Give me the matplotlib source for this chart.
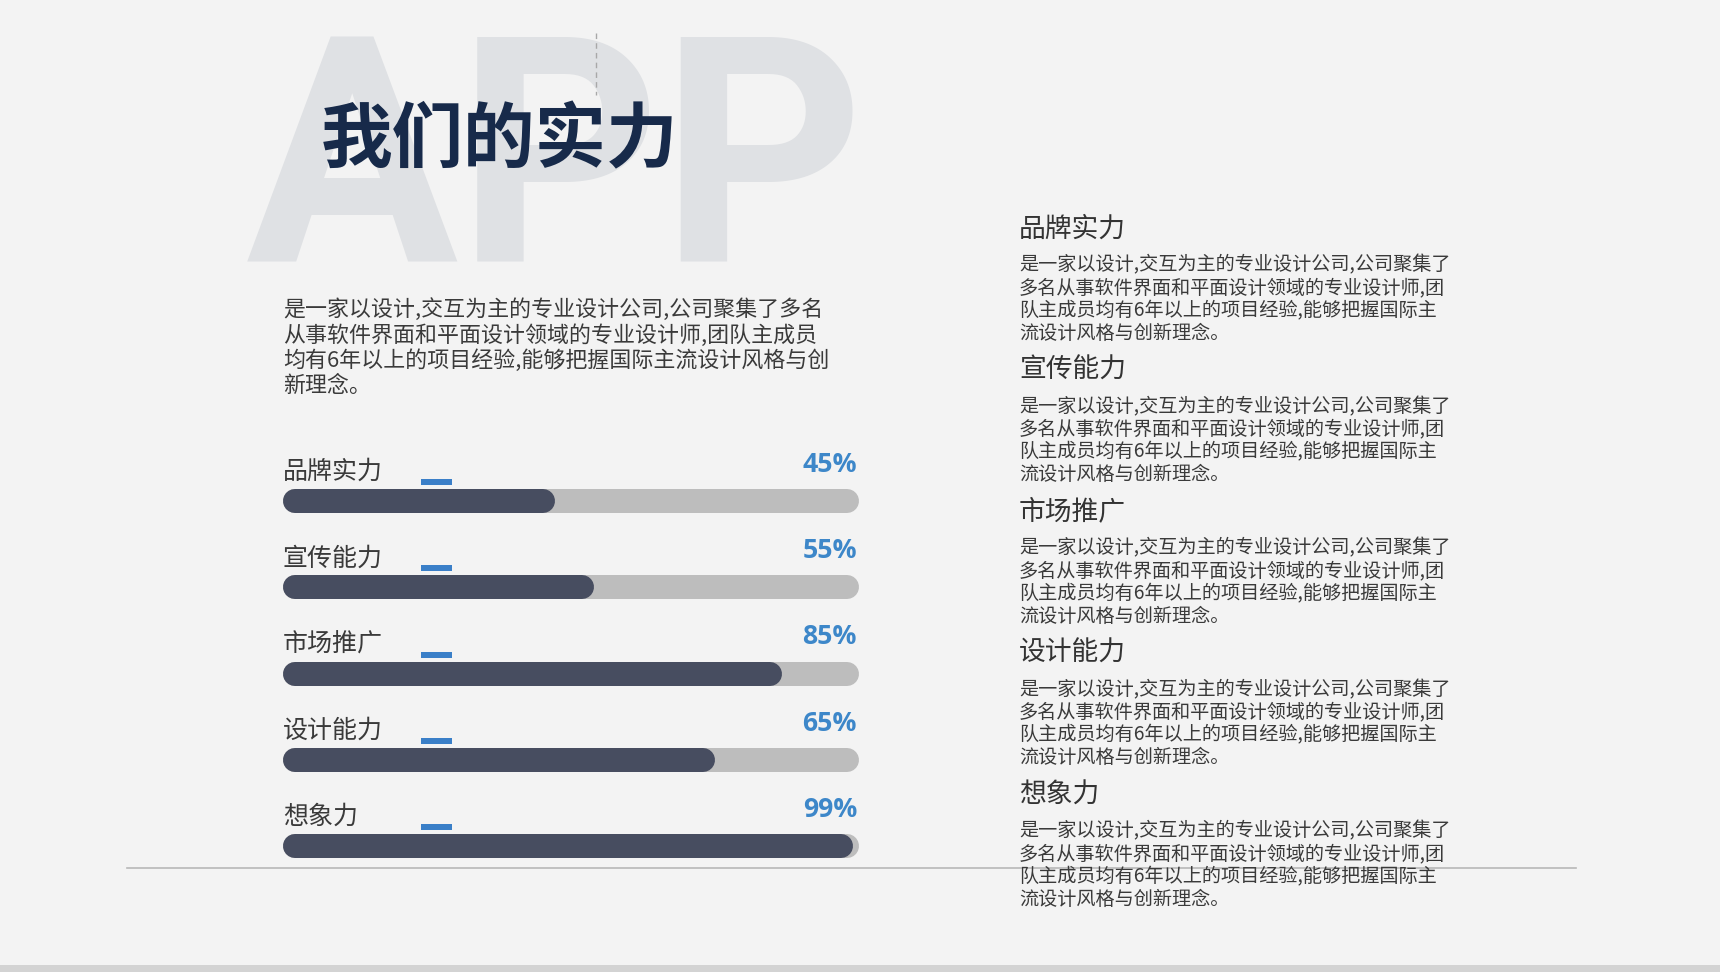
import numpy as np
import matplotlib
matplotlib.use("Agg")
import matplotlib.pyplot as plt
import matplotlib.transforms as mtransforms

plt.rcParams['font.family'] = ['Noto Sans CJK SC', 'DejaVu Sans']

# 数据
categories = ['品牌实力', '宣传能力', '市场推广', '设计能力', '想象力']
pct_labels = [45, 55, 85, 65, 99]          # 标注的百分比
bar_fill = [45, 52, 86, 74, 99]            # 图上进度条实际长度
intro_lines = [
    '是一家以设计,交互为主的专业设计公司,公司聚集了多名',
    '从事软件界面和平面设计领域的专业设计师,团队主成员',
    '均有6年以上的项目经验,能够把握国际主流设计风格与创',
    '新理念。',
]
desc_lines = [
    '是一家以设计,交互为主的专业设计公司,公司聚集了',
    '多名从事软件界面和平面设计领域的专业设计师,团',
    '队主成员均有6年以上的项目经验,能够把握国际主',
    '流设计风格与创新理念。',
]

W, H = 1720, 972
bg_col = '#f3f3f3'
dark = '#474d60'
track = '#bdbdbd'
blue = '#3d87c9'
txt = '#3a3a3a'

fig = plt.figure(figsize=(W / 100, H / 100), dpi=100, facecolor=bg_col)

# 背景层, 像素坐标
bg = fig.add_axes([0, 0, 1, 1])
bg.set_xlim(0, W)
bg.set_ylim(H, 0)
bg.axis('off')
bg.set_facecolor(bg_col)

# 大号 APP 水印
bg.text(246, 261, 'APP', family=['Roboto', 'Liberation Sans'], fontweight='bold',
        fontsize=227, color='#dfe1e4', ha='left', va='baseline', zorder=1)
bg.plot([596, 596], [33, 95], color='#a8a8a8', lw=1, ls=(0, (4, 3)), zorder=2)

# 标题
bg.text(321, 141, '我们的实力', fontsize=51.5, fontweight='bold',
        color='#172a4a', ha='left', va='center', zorder=3)

# 左侧简介
for k, line in enumerate(intro_lines):
    bg.text(283, 310 + 25.3 * k, line, fontsize=15.8, color=txt,
            ha='left', va='center')

# 右侧说明
for i, name in enumerate(categories):
    y0 = 229 + 141.5 * i
    bg.text(1019, y0, name, fontsize=19.3, color='#333333', ha='left', va='center')
    for k, line in enumerate(desc_lines):
        bg.text(1019, y0 + 36 + 22.7 * k, line, fontsize=13.8, color=txt,
                ha='left', va='center')

# 分隔线和底部色带
bg.plot([127, 1576], [868, 868], color='#b8b8b8', lw=1.2)
bg.axhspan(965, H, color='#d3d3d3', lw=0)

# 进度条
row_h = 86.25
top = 501 - row_h / 2
ax = fig.add_axes([283 / W, 1 - (top + 5 * row_h) / H, 576 / W, 5 * row_h / H])
ax.patch.set_alpha(0)
ax.axis('off')
cap = 12 / 5.52
ax.set_xlim(-cap, 100 + cap)
ax.set_ylim(len(categories) - 0.5, -0.5)

lw = 24 * 72 / 100
ypos = np.arange(len(categories))
for i in ypos:
    ax.plot([0, 100], [i, i], color=track, lw=lw, solid_capstyle='round', zorder=2)
    ax.plot([0, bar_fill[i]], [i, i], color=dark, lw=lw, solid_capstyle='round', zorder=3)

blend = mtransforms.blended_transform_factory(ax.transAxes, ax.transData)
lab_tr = mtransforms.offset_copy(blend, fig=fig, y=29, units='dots')
pct_tr = mtransforms.offset_copy(blend, fig=fig, x=-2, y=29, units='dots')
dash_tr = mtransforms.offset_copy(blend, fig=fig, y=19, units='dots')

for i, name in enumerate(categories):
    ax.text(0, i, name, transform=lab_tr, fontsize=18, color=txt,
            ha='left', va='center', clip_on=False)
    ax.text(1, i, f'{pct_labels[i]}%', transform=pct_tr, family='Open Sans',
            fontweight='bold', fontsize=19.2, color=blue, ha='right',
            va='baseline', clip_on=False)
    ax.plot([0.2396, 0.2934], [i, i], transform=dash_tr, color='#3a7fc8',
            lw=6 * 72 / 100, solid_capstyle='butt', clip_on=False)

fig.savefig('out.png', dpi=100, facecolor=bg_col)
